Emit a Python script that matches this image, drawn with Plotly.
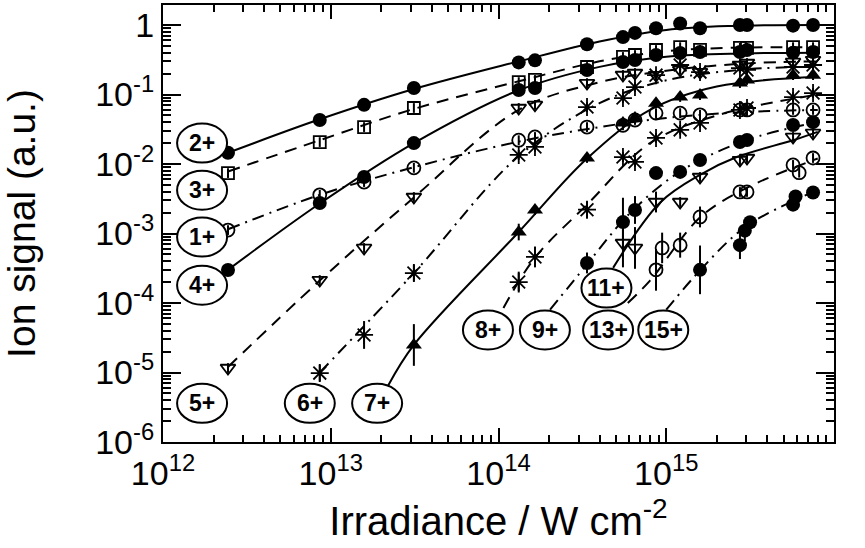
import math
import plotly.graph_objects as go

# ---------------- data ----------------
IRR = [2.44e12, 8.6e12, 1.58e13, 3.13e13, 1.32e14, 1.65e14, 3.37e14, 5.52e14,
       6.51e14, 8.69e14, 1.21e15, 1.59e15, 2.75e15, 3.03e15, 5.7e15, 7.5e15]

sig_1 = [1.12e-3, 3.6e-3, 5.5e-3, 8.8e-3, 0.022, 0.0245, 0.034, 0.036, 0.043, 0.054,
         0.054, 0.051, 0.06, 0.06, 0.06, 0.06]
sig_2 = [0.0145, 0.043, 0.071, 0.124, 0.29, 0.31, 0.53, 0.67, 0.77, 0.9, 1.05, 0.9,
         1.0, 1.0, 0.98, 1.0]
sig_3 = [0.0074, 0.0207, 0.034, 0.064, 0.151, 0.162, 0.249, 0.347, 0.37, 0.437, 0.48,
         0.44, 0.47, 0.47, 0.48, 0.48]
sig_4 = [2.98e-4, 2.75e-3, 6.5e-3, 0.020, 0.116, 0.124, 0.225, 0.294, 0.313, 0.37,
         0.396, 0.41, 0.41, 0.437, 0.40, 0.41]
sig_5 = [1.16e-5, 2.14e-4, 6.2e-4, 3.35e-3, 0.064, 0.071, 0.146, 0.191, 0.204, 0.19,
         0.226, 0.21, 0.266, 0.284, 0.294, 0.313]
sig_6 = [None, 9.8e-6, 3.47e-5, 2.7e-4, 0.0135, 0.0176, 0.066, 0.089, 0.128, 0.19,
         0.266, 0.21, 0.24, 0.226, 0.249, 0.266]
sig_7 = [None, None, None, 2.49e-5, 1.05e-3, 2.18e-3, 0.0122, 0.039, 0.046, 0.075,
         0.092, 0.098, 0.146, 0.162, 0.19, 0.19]
sig_8 = [None, None, None, None, 2.0e-4, 4.6e-4, 2.2e-3, 0.0126, 0.0107, 0.0237,
         0.031, 0.039, 0.06, 0.064, 0.092, 0.105]
sig_9 = [None, None, None, None, None, None, 3.77e-4, 1.46e-3, 2.18e-3, 7.4e-3,
         7.7e-3, 0.0114, 0.0207, 0.0222, 0.0364, 0.040]
sig_11 = [None, None, None, None, None, None, None, 7.3e-4, 6.2e-4, 2.84e-3,
          2.84e-3, 6.5e-3, 0.0114, 0.0122, 0.0245, 0.028]

irr_13 = [8.69e14, 9.45e14, 1.21e15, 1.59e15, 2.75e15, 3.03e15, 5.7e15, 6.2e15, 7.5e15]
sig_13 = [3.0e-4, 6.2e-4, 6.8e-4, 1.73e-3, 3.96e-3, 3.96e-3, 9.7e-3, 7.5e-3, 0.0122]
irr_15 = [1.59e15, 2.75e15, 2.94e15, 3.16e15, 5.7e15, 5.9e15, 7.5e15]
sig_15 = [3.0e-4, 6.8e-4, 1.1e-3, 1.45e-3, 2.6e-3, 3.4e-3, 3.9e-3]

# error bars (in decades) for the noisier points: {irradiance: half-length}
err_6 = {8.6e12: 0.12, 1.58e13: 0.2, 3.13e13: 0.12}
err_7 = {3.13e13: 0.3, 1.32e14: 0.12}
err_8 = {1.32e14: 0.15, 1.65e14: 0.15, 3.37e14: 0.12}
err_9 = {3.37e14: 0.15, 5.52e14: 0.35, 6.51e14: 0.2}
err_11 = {5.52e14: 0.35, 6.51e14: 0.3, 8.69e14: 0.15}
err_13 = {8.69e14: 0.3, 9.45e14: 0.22, 1.21e15: 0.18, 1.59e15: 0.15}
err_15 = {1.59e15: 0.35, 2.75e15: 0.2, 2.94e15: 0.15}
ERR_DEFAULT = 0.07

# smooth guide curves (nodes)
fit_x_1 = [2.44e12, 8.6e12, 3.13e13, 1.32e14, 4e14, 1e15, 3e15, 8e15]
fit_y_1 = [1.15e-3, 3.6e-3, 9e-3, 0.021, 0.034, 0.046, 0.056, 0.06]
fit_x_2 = [2.44e12, 8.6e12, 3.13e13, 1.32e14, 4e14, 1e15, 2.5e15, 8e15]
fit_y_2 = [0.0145, 0.044, 0.12, 0.3, 0.58, 0.85, 0.97, 1.0]
fit_x_3 = [2.44e12, 8.6e12, 3.13e13, 1.32e14, 4e14, 1e15, 2.5e15, 8e15]
fit_y_3 = [0.0078, 0.022, 0.062, 0.155, 0.3, 0.42, 0.47, 0.48]
fit_x_4 = [2.44e12, 8.6e12, 3.13e13, 1.32e14, 4e14, 1e15, 3e15, 8e15]
fit_y_4 = [3e-4, 2.7e-3, 0.02, 0.115, 0.25, 0.35, 0.39, 0.4]
fit_x_5 = [2.44e12, 8.6e12, 3.13e13, 1.32e14, 4e14, 1e15, 3e15, 8e15]
fit_y_5 = [1.2e-5, 2.1e-4, 3.3e-3, 0.06, 0.15, 0.22, 0.28, 0.3]
fit_x_6 = [8.6e12, 3.13e13, 1.32e14, 4e14, 1e15, 3e15, 8e15]
fit_y_6 = [1e-5, 2.7e-4, 0.013, 0.075, 0.16, 0.23, 0.25]
fit_x_7 = [2.2e13, 3.13e13, 1.32e14, 3.37e14, 8e14, 2e15, 8e15]
fit_y_7 = [6.5e-6, 2.5e-5, 1.05e-3, 0.012, 0.06, 0.13, 0.18]
fit_x_8 = [1.07e14, 1.65e14, 3.37e14, 8e14, 2e15, 8e15]
fit_y_8 = [8.5e-5, 4.5e-4, 2.6e-3, 0.02, 0.05, 0.1]
fit_x_9 = [2.03e14, 3.4e14, 6e14, 1.2e15, 3e15, 8e15]
fit_y_9 = [8e-5, 3.7e-4, 1.9e-3, 7.7e-3, 0.022, 0.04]
fit_x_11 = [4.82e14, 9.2e14, 1.59e15, 2.63e15, 5.7e15, 8e15]
fit_y_11 = [3.2e-4, 2.8e-3, 7e-3, 0.0126, 0.022, 0.029]
fit_x_13 = [5.9e14, 8e14, 1.59e15, 3e15, 8e15]
fit_y_13 = [1e-4, 2.1e-4, 1.7e-3, 4.5e-3, 0.012]
fit_x_15 = [1.0e15, 1.6e15, 2.9e15, 5.8e15, 8e15]
fit_y_15 = [8e-5, 3e-4, 1.2e-3, 3e-3, 4.2e-3]

# label ellipses: charge state, irradiance, signal at centre
label_text = ["2+", "3+", "1+", "4+", "5+", "6+", "7+", "8+", "9+", "13+", "15+", "11+"]
label_irr = [1.71e12, 1.71e12, 1.71e12, 1.71e12, 1.71e12, 7.5e12, 1.89e13, 8.65e13,
             1.89e14, 4.5e14, 9.6e14, 4.4e14]
label_sig = [0.020, 4.2e-3, 8.9e-4, 1.8e-4, 3.6e-6, 3.6e-6, 3.6e-6, 4.1e-5, 4.1e-5,
             4.1e-5, 4.1e-5, 1.64e-4]

x_ticks = [1e12, 1e13, 1e14, 1e15, 1e16]
x_ticktext = ["10<sup>12</sup>", "10<sup>13</sup>", "10<sup>14</sup>", "10<sup>15</sup>", "10<sup>16</sup>"]
y_ticks = [1e-6, 1e-5, 1e-4, 1e-3, 1e-2, 1e-1, 1]
y_ticktext = ["10<sup>-6</sup>", "10<sup>-5</sup>", "10<sup>-4</sup>", "10<sup>-3</sup>",
              "10<sup>-2</sup>", "10<sup>-1</sup>", "1"]

# ---------------- styles ----------------
DASH = "12px,8px"
DASHDOT = "12px,6px,2px,6px"
series = [
    ("1+", IRR, sig_1, {}, fit_x_1, fit_y_1, "circle-open", DASHDOT),
    ("2+", IRR, sig_2, {}, fit_x_2, fit_y_2, "circle", "solid"),
    ("3+", IRR, sig_3, {}, fit_x_3, fit_y_3, "square-open", DASH),
    ("4+", IRR, sig_4, {}, fit_x_4, fit_y_4, "circle", "solid"),
    ("5+", IRR, sig_5, {}, fit_x_5, fit_y_5, "triangle-down-open", DASH),
    ("6+", IRR, sig_6, err_6, fit_x_6, fit_y_6, "asterisk-open", DASHDOT),
    ("7+", IRR, sig_7, err_7, fit_x_7, fit_y_7, "triangle-up", "solid"),
    ("8+", IRR, sig_8, err_8, fit_x_8, fit_y_8, "asterisk-open", DASH),
    ("9+", IRR, sig_9, err_9, fit_x_9, fit_y_9, "circle", DASHDOT),
    ("11+", IRR, sig_11, err_11, fit_x_11, fit_y_11, "triangle-down-open", "solid"),
    ("13+", irr_13, sig_13, err_13, fit_x_13, fit_y_13, "circle-open", DASH),
    ("15+", irr_15, sig_15, err_15, fit_x_15, fit_y_15, "circle", DASHDOT),
]

fig = go.Figure()

for name, xs, ys, errs, fx, fy, sym, dash in series:
    fig.add_trace(go.Scatter(
        x=fx, y=fy, mode="lines", line=dict(color="black", width=2, dash=dash, shape="spline"),
        hoverinfo="skip", showlegend=False))

for name, xs, ys, errs, fx, fy, sym, dash in series:
    px, py, eu, ed = [], [], [], []
    for x, y in zip(xs, ys):
        if y is None:
            continue
        d = errs.get(x, ERR_DEFAULT)
        px.append(x)
        py.append(y)
        eu.append(y * (10 ** d - 1))
        ed.append(y * (1 - 10 ** (-d)))
    is_open = sym.endswith("open")
    if "asterisk" in sym:
        size = 15
    elif "square" in sym:
        size = 12
    elif is_open:
        size = 13
    else:
        size = 14
    fig.add_trace(go.Scatter(
        x=px, y=py, mode="markers", name=name, showlegend=False,
        marker=dict(symbol=sym, size=size, color="black",
                    line=dict(color="black", width=1.8 if is_open else 0)),
        error_y=dict(type="data", array=eu, arrayminus=ed, color="black",
                     thickness=2, width=0, visible=True),
    ))

# ---------------- labels ----------------
XMIN, XMAX = 12.0, 16.0
YMIN, YMAX = -6.0, 0.288
W_PLOT, H_PLOT = 671, 437
ell_w, ell_h = 50, 39
for t, lx, ly in zip(label_text, label_irr, label_sig):
    xp = (math.log10(lx) - XMIN) / (XMAX - XMIN)
    yp = (math.log10(ly) - YMIN) / (YMAX - YMIN)
    dx = ell_w / 2 / W_PLOT
    dy = ell_h / 2 / H_PLOT
    fig.add_shape(type="circle", xref="paper", yref="paper",
                  x0=xp - dx, x1=xp + dx, y0=yp - dy, y1=yp + dy,
                  line=dict(color="black", width=2), fillcolor="white", layer="above")
    fig.add_annotation(x=xp, y=yp, xref="paper", yref="paper", text="<b>" + t + "</b>",
                       showarrow=False, xanchor="center", yanchor="middle",
                       font=dict(family="Liberation Sans", size=23, color="black"))

axis_common = dict(
    type="log", showgrid=False, zeroline=False, showline=True, linecolor="black",
    linewidth=2, mirror="allticks", ticks="inside", tickcolor="black", tickwidth=2,
    tickfont=dict(family="Liberation Sans", size=34, color="black"),
)

fig.update_xaxes(
    **axis_common, range=[XMIN, XMAX], tickmode="array", tickvals=x_ticks,
    ticktext=x_ticktext, ticklen=14,
    minor=dict(ticks="inside", ticklen=7, tickwidth=1.5, tickcolor="black",
               tickmode="array",
               tickvals=[k * 10 ** n for n in range(12, 16) for k in range(2, 10)]),
    title=dict(text="Irradiance / W cm<sup>-2</sup>",
               font=dict(family="Liberation Sans", size=40, color="black"), standoff=16),
)
fig.update_yaxes(
    **axis_common, range=[YMIN, YMAX], tickmode="array", tickvals=y_ticks,
    ticktext=y_ticktext, ticklen=18,
    minor=dict(ticks="inside", ticklen=8, tickwidth=1.5, tickcolor="black",
               tickmode="array",
               tickvals=[k * 10 ** n for n in range(-6, 1) for k in range(2, 10)]),
    title=dict(text="Ion signal (a.u.)",
               font=dict(family="Liberation Sans", size=39, color="black"), standoff=50),
)

fig.update_layout(
    width=865, height=548, margin=dict(l=163, r=31, t=5, b=106, autoexpand=False),
    paper_bgcolor="white", plot_bgcolor="white",
    font=dict(family="Liberation Sans", color="black"),
)

fig.write_html("out.html")
